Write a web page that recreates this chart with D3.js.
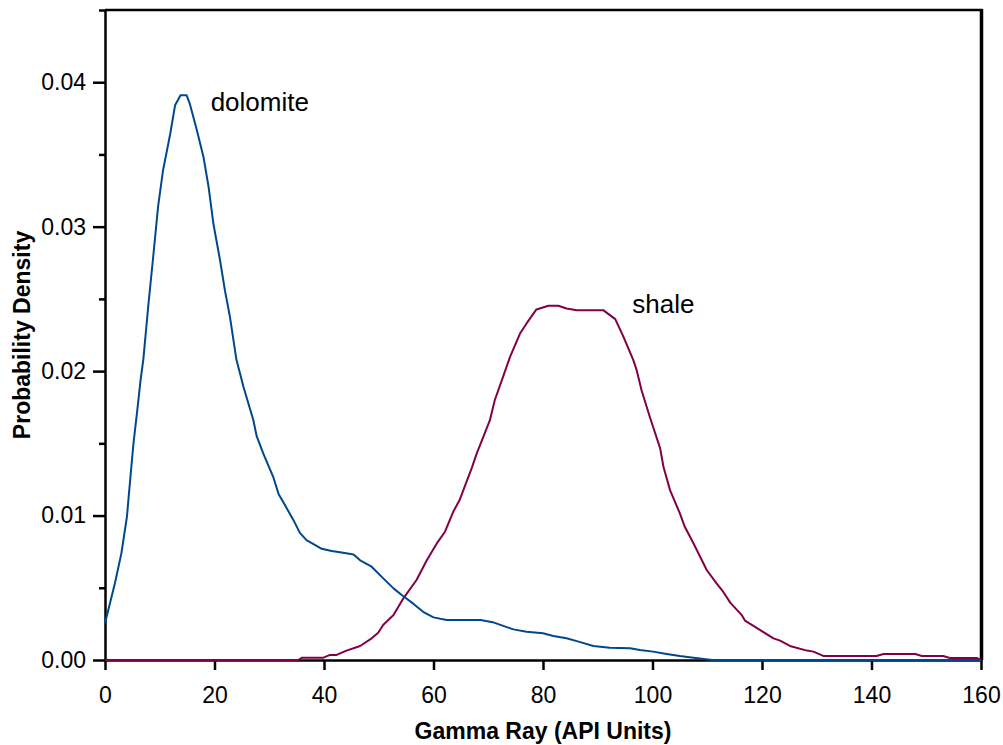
<!DOCTYPE html>
<html>
<head>
<meta charset="utf-8">
<script src="https://cdn.jsdelivr.net/npm/d3@7"></script>
<style>
  html, body { margin: 0; padding: 0; background: #fff; }
  svg { display: block; font-family: "Liberation Sans", Arial, sans-serif; }
</style>
</head>
<body>
<svg id="chart" width="1003" height="745"></svg>
<script>
// ---- Data ----
const dolomiteGR = [0, 1.8, 3.0, 4.0, 4.7, 5.2, 5.9, 6.5, 7.0, 7.9, 8.8, 9.7, 10.6, 11.9, 12.8, 13.8, 14.9, 15.5, 16.7, 18.0, 18.9, 19.8, 21.0, 21.9, 22.8, 24.0, 25.3, 27.1, 27.7, 28.9, 30.7, 31.7, 32.6, 34.4, 35.6, 36.8, 39.6, 41.4, 43.5, 45.4, 46.6, 48.7, 50.5, 52.7, 54.2, 56.3, 58.1, 60.0, 62.4, 68.6, 70.8, 74.6, 77.0, 80.0, 81.9, 84.3, 86.5, 89.2, 92.2, 95.9, 97.7, 100.1, 102.6, 105.0, 107.5, 110.9, 160];
const dolomiteDensity = [0.00254, 0.0053, 0.0074, 0.0099, 0.0129, 0.0150, 0.0173, 0.0194, 0.0208, 0.0245, 0.0279, 0.0314, 0.0339, 0.0364, 0.0384, 0.0391, 0.0391, 0.0385, 0.0368, 0.0348, 0.0328, 0.0302, 0.0277, 0.0256, 0.0238, 0.0208, 0.0189, 0.0166, 0.0155, 0.0143, 0.0127, 0.0115, 0.0109, 0.0097, 0.0088, 0.0083, 0.0077, 0.00754, 0.00743, 0.00731, 0.0069, 0.00646, 0.00577, 0.00496, 0.0045, 0.0039, 0.00334, 0.00295, 0.00277, 0.00277, 0.00262, 0.00212, 0.00196, 0.00185, 0.00166, 0.0015, 0.00127, 0.00097, 0.00085, 0.00081, 0.0007, 0.00058, 0.00042, 0.00028, 0.00016, 0, 0];

const shaleGR = [0, 35.3, 36.0, 39.9, 41.1, 42.3, 44.1, 46.6, 48.7, 49.9, 50.8, 52.7, 54.5, 56.9, 58.8, 60.6, 62.1, 63.6, 64.8, 65.8, 67.0, 67.9, 69.1, 70.3, 71.2, 72.7, 74.0, 75.8, 77.0, 78.8, 81.0, 82.8, 84.3, 86.2, 91.0, 93.2, 94.7, 96.5, 97.1, 98.0, 99.5, 100.1, 101.4, 102.0, 103.2, 105.0, 105.9, 107.5, 109.0, 109.9, 111.7, 112.9, 114.2, 116.3, 116.9, 119.6, 122.1, 123.3, 125.1, 128.2, 129.4, 131.2, 140.9, 142.2, 148.0, 149.2, 153.1, 154.3, 159.2, 160];
const shaleDensity = [0, 0, 0.00016, 0.00016, 0.00035, 0.00035, 0.00065, 0.00097, 0.0015, 0.00189, 0.00242, 0.00311, 0.00427, 0.00554, 0.00692, 0.00807, 0.00888, 0.01026, 0.0111, 0.0121, 0.0133, 0.0143, 0.01545, 0.0166, 0.0180, 0.0196, 0.0210, 0.0226, 0.0233, 0.02427, 0.02452, 0.02452, 0.02434, 0.02422, 0.02422, 0.02360, 0.02237, 0.02076, 0.02007, 0.01868, 0.01684, 0.01615, 0.01465, 0.01338, 0.01176, 0.01015, 0.00922, 0.00807, 0.00692, 0.00623, 0.00531, 0.00473, 0.00397, 0.00311, 0.00272, 0.00208, 0.0015, 0.00134, 0.00097, 0.00065, 0.00058, 0.00028, 0.00028, 0.00042, 0.00042, 0.00028, 0.00028, 0.00014, 0.00014, 0];

const xTicks = [0, 20, 40, 60, 80, 100, 120, 140, 160];
const yTicks = [0, 0.01, 0.02, 0.03, 0.04];
const yMinorTicks = [0.005, 0.015, 0.025, 0.035, 0.045];

const seriesNames = ["dolomite", "shale"];
const labelGR = [19.3, 96.3];
const labelDensity = [0.038, 0.024];

// ---- Chart ----
const svg = d3.select("#chart");
const x = d3.scaleLinear().domain([0, 160]).range([105, 981]);
const y = d3.scaleLinear().domain([0, 0.045]).range([660, 10]);
const colors = d3.scaleOrdinal().domain(seriesNames).range(["#00488c", "#820046"]);

// frame: top and right
svg.append("line").attr("x1", x(0)).attr("x2", x(160) + 1.5).attr("y1", y(0.045)).attr("y2", y(0.045))
  .attr("stroke", "#000").attr("stroke-width", 2.5);
svg.append("line").attr("x1", x(160) + 0.5).attr("x2", x(160) + 0.5).attr("y1", y(0.045) - 1).attr("y2", y(0))
  .attr("stroke", "#000").attr("stroke-width", 3.5);

// y axis
const yAxis = svg.append("g").attr("transform", `translate(${x(0)},0)`)
  .call(d3.axisLeft(y).tickValues(yTicks).tickFormat(d3.format(".2f")).tickSize(12).tickPadding(7).tickSizeOuter(0));
const yMinor = svg.append("g").attr("transform", `translate(${x(0)},0)`)
  .call(d3.axisLeft(y).tickValues(yMinorTicks).tickFormat("").tickSize(6).tickSizeOuter(0));
yMinor.select(".domain").remove();

// x axis
const xAxis = svg.append("g").attr("transform", `translate(0,${y(0)})`)
  .call(d3.axisBottom(x).tickValues(xTicks).tickFormat(d3.format("d")).tickSize(10).tickPadding(17).tickSizeOuter(0));

[yAxis, yMinor, xAxis].forEach(g => {
  g.selectAll("path.domain").attr("stroke", "#000").attr("stroke-width", 2.5);
  g.selectAll(".tick line").attr("stroke", "#000").attr("stroke-width", 2.5);
  g.selectAll(".tick text").attr("fill", "#000").style("font-size", "23px")
    .style("font-family", "'Liberation Sans', Arial, sans-serif");
});

// axis titles
svg.append("text").attr("x", (x(0) + x(160)) / 2).attr("y", 739)
  .attr("text-anchor", "middle").style("font-size", "23px").style("font-weight", "bold")
  .text("Gamma Ray (API Units)");
svg.append("text").attr("transform", `translate(30,${(y(0) + y(0.045)) / 2}) rotate(-90)`)
  .attr("text-anchor", "middle").style("font-size", "23px").style("font-weight", "bold")
  .text("Probability Density");

// curves
const line = d3.line().x(d => x(d[0])).y(d => y(d[1]));
const series = [
  { name: "dolomite", pts: d3.zip(dolomiteGR, dolomiteDensity) },
  { name: "shale", pts: d3.zip(shaleGR, shaleDensity) }
];
// draw shale first so dolomite sits on top at the baseline tail
[series[1], series[0]].forEach(s => {
  svg.append("path").datum(s.pts).attr("d", line)
    .attr("fill", "none").attr("stroke", colors(s.name)).attr("stroke-width", 2)
    .attr("stroke-linejoin", "round");
});

// series labels
seriesNames.forEach((n, i) => {
  svg.append("text").attr("x", x(labelGR[i])).attr("y", y(labelDensity[i]))
    .style("font-size", "26px").attr("fill", "#000").text(n);
});
</script>
</body>
</html>
